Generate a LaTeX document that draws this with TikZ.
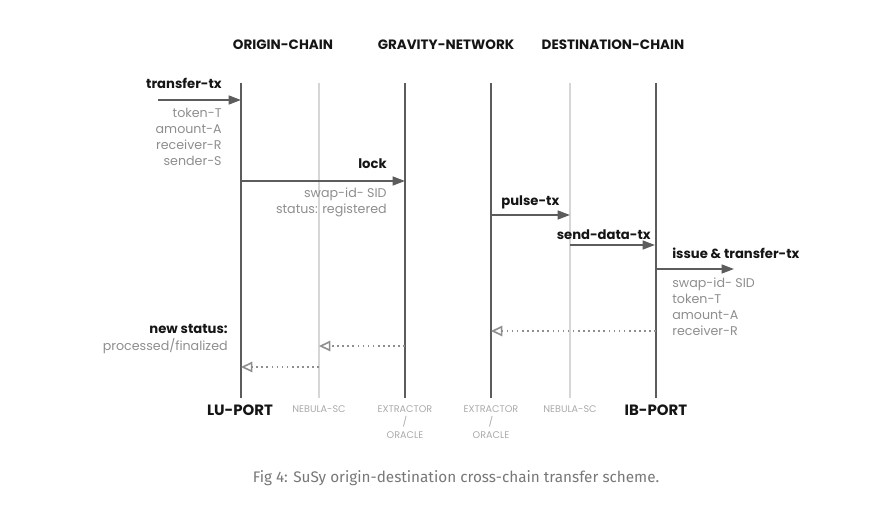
\documentclass[tikz,border=0pt]{standalone}
\usepackage{fontspec}
\setmainfont{Poppins}
\newfontfamily\capfont{Fira Sans}
\usetikzlibrary{arrows.meta}
\definecolor{lanedark}{HTML}{5C5C5C}
\definecolor{lanelight}{HTML}{D6D6D6}
\definecolor{notegray}{HTML}{8E8E8E}
\definecolor{msgdark}{HTML}{151515}
\definecolor{capgray}{HTML}{777777}

\tikzset{
  lane/.style={lanedark, line width=1.4pt},
  lanefaint/.style={lanelight, line width=1pt},
  msg/.style={lanedark, line width=1.1pt, -{Triangle[length=7pt,width=5pt]}},
  reply/.style={notegray, dotted, line width=0.9pt, -{Triangle[open,length=6.5pt,width=6pt]}},
  head/.style={text=msgdark, inner sep=0pt, font=\bfseries\fontsize{7.7}{9}\selectfont},
  port/.style={text=msgdark, inner sep=0pt, font=\bfseries\fontsize{8.5}{10}\selectfont},
  comp/.style={text=notegray!75, inner sep=0pt, align=center, font=\fontsize{5.5}{7.6}\selectfont},
  label/.style={text=msgdark, inner sep=0pt, font=\bfseries\fontsize{7.5}{9}\selectfont},
  note/.style={text=notegray, inner sep=0pt, font=\fontsize{7.2}{9.1}\selectfont}
}

\begin{document}
\begin{tikzpicture}[x=0.02cm, y=-0.02cm]
  \useasboundingbox (0,0) rectangle (875,510);

  % chain headers
  \node[head] (hdrOrigin) at (283,45) {ORIGIN-CHAIN};
  \node[head] (hdrGravity) at (446,45) {GRAVITY-NETWORK};
  \node[head] (hdrDest) at (613,45) {DESTINATION-CHAIN};

  % lifelines
  \coordinate (luTop) at (241,83);   \coordinate (luBot) at (241,398);
  \coordinate (nebATop) at (319,83); \coordinate (nebABot) at (319,398);
  \coordinate (extATop) at (405,83); \coordinate (extABot) at (405,398);
  \coordinate (extBTop) at (491,83); \coordinate (extBBot) at (491,398);
  \coordinate (nebBTop) at (570,83); \coordinate (nebBBot) at (570,398);
  \coordinate (ibTop) at (656,83);   \coordinate (ibBot) at (656,398);
  \draw[lanefaint] (nebATop) -- (nebABot);
  \draw[lanefaint] (nebBTop) -- (nebBBot);
  \draw[lane] (luTop) -- (luBot);
  \draw[lane] (extATop) -- (extABot);
  \draw[lane] (extBTop) -- (extBBot);
  \draw[lane] (ibTop) -- (ibBot);

  % component names
  \node[port] (luPort) at (240,410) {LU-PORT};
  \node[comp, anchor=north] (nebA) at (319,405) {NEBULA-SC};
  \node[comp, anchor=north] (extA) at (405,405) {EXTRACTOR\\/\\ORACLE};
  \node[comp, anchor=north] (extB) at (491,405) {EXTRACTOR\\/\\ORACLE};
  \node[comp, anchor=north] (nebB) at (570,405) {NEBULA-SC};
  \node[port] (ibPort) at (656,410) {IB-PORT};

  % transfer-tx
  \coordinate (txStart) at (158,100);
  \coordinate (txEnd) at (241,100);
  \draw[msg] (txStart) -- (txEnd);
  \node[label, anchor=east] (txLbl) at (222,83) {transfer-tx};
  \node[note, anchor=north east, align=right] (txNote) at (222,108)
    {token-T\\amount-A\\receiver-R\\sender-S};

  % lock
  \coordinate (lockStart) at (241,181);
  \coordinate (lockEnd) at (405,181);
  \draw[msg] (lockStart) -- (lockEnd);
  \node[label, anchor=east] (lockLbl) at (387,164) {lock};
  \node[note, anchor=north east, align=right] (lockNote) at (387,188)
    {swap-id- SID\\status: registered};

  % pulse-tx
  \coordinate (pulseStart) at (491,215);
  \coordinate (pulseEnd) at (570,215);
  \draw[msg] (pulseStart) -- (pulseEnd);
  \node[label, anchor=west] (pulseLbl) at (501,202) {pulse-tx};

  % send-data-tx
  \coordinate (sendStart) at (570,245);
  \coordinate (sendEnd) at (655,245);
  \draw[msg] (sendStart) -- (sendEnd);
  \node[label, anchor=east] (sendLbl) at (651,235) {send-data-tx};

  % issue & transfer-tx
  \coordinate (issueStart) at (656,269);
  \coordinate (issueEnd) at (734,269);
  \draw[msg] (issueStart) -- (issueEnd);
  \node[label, anchor=west] (issueLbl) at (672,253) {issue \& transfer-tx};
  \node[note, anchor=north west, align=left] (issueNote) at (672,278)
    {swap-id- SID\\token-T\\amount-A\\receiver-R};

  % status replies
  \coordinate (backA) at (656,331); \coordinate (backAEnd) at (491,331);
  \coordinate (backB) at (405,346); \coordinate (backBEnd) at (319,346);
  \coordinate (backC) at (319,367); \coordinate (backCEnd) at (241,367);
  \draw[reply] (backA) -- (backAEnd);
  \draw[reply] (backB) -- (backBEnd);
  \draw[reply] (backC) -- (backCEnd);
  \node[label, anchor=east] (statusLbl) at (228,329) {new status:};
  \node[note, anchor=east] (statusNote) at (228,346) {processed/finalized};

  % caption
  \node[text=capgray, inner sep=0pt, font=\capfont\fontsize{8.7}{10}\selectfont]
    (caption) at (456,478) {Fig 4: SuSy origin-destination cross-chain transfer scheme.};
\end{tikzpicture}
\end{document}
